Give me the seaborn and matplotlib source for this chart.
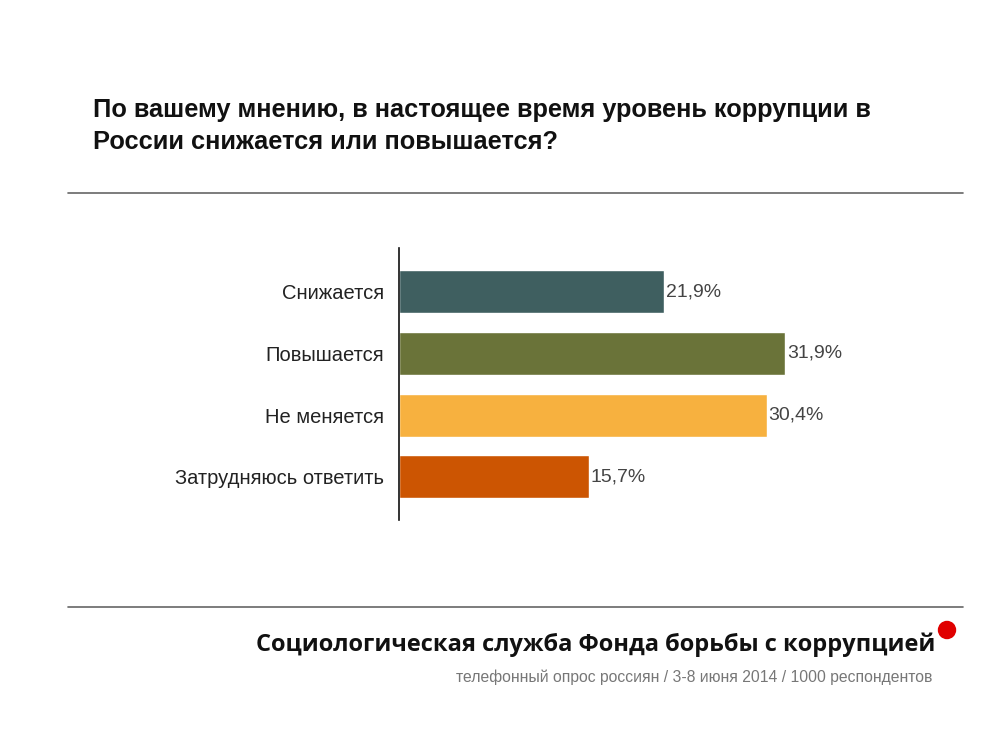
import matplotlib
matplotlib.use("Agg")
import matplotlib.pyplot as plt
import seaborn as sns
import pandas as pd
from matplotlib.patches import Ellipse
from matplotlib.lines import Line2D

categories = ["Снижается", "Повышается", "Не меняется", "Затрудняюсь ответить"]
values = [21.9, 31.9, 30.4, 15.7]
value_labels = ["21,9%", "31,9%", "30,4%", "15,7%"]
colors = ["#3F5F60", "#6A7339", "#F7B13F", "#CC5502"]

title = "По вашему мнению, в настоящее время уровень коррупции в\nРоссии снижается или повышается?"
footer = "Социологическая служба Фонда борьбы с коррупцией"
subfooter = "телефонный опрос россиян / 3-8 июня 2014 / 1000 респондентов"

sns.set_theme(style="white")
plt.rcParams['font.family'] = ['Liberation Sans', 'DejaVu Sans']

df = pd.DataFrame({"cat": categories, "val": values})

fig = plt.figure(figsize=(10, 7.5), dpi=100)
ax = fig.add_axes([0.399, 0.3067, 0.501, 0.3627])
sns.barplot(data=df, x="val", y="cat", hue="cat", palette=colors, legend=False,
            width=0.7, ax=ax, saturation=1)
ax.set_xlim(0, 41.4)
ax.set_ylim(3.70, -0.71)
ax.set_xlabel("")
ax.set_ylabel("")
ax.set_xticks([])
for s in ["top", "right", "bottom"]:
    ax.spines[s].set_visible(False)
ax.spines["left"].set_color("#111111")
ax.spines["left"].set_linewidth(1.2)
ax.tick_params(axis="y", length=0, pad=11, labelsize=14.5, labelcolor="#222222")

for i, (v, lab) in enumerate(zip(values, value_labels)):
    ax.text(v + 0.15, i, lab, va="center", ha="left", fontsize=14, color="#444444")

fig.text(0.093, 1 - 126/750, title, ha="left", va="center", fontsize=18.3, fontweight="bold",
         color="#111111", linespacing=1.42)

fig.add_artist(Line2D([0.068, 0.963], [1 - 193/750, 1 - 193/750], color="#666666", lw=1.2))
fig.add_artist(Line2D([0.068, 0.963], [1 - 607/750, 1 - 607/750], color="#666666", lw=1.2))

fig.text(0.935, 1 - 645/750, footer, ha="right", va="center", fontsize=17.0, fontweight="bold",
         color="#111111", family=['Open Sans', 'DejaVu Sans'])
fig.text(0.932, 1 - 677/750, subfooter, ha="right", va="center", fontsize=11.3,
         color="#777777")
fig.add_artist(Ellipse((0.947, 1 - 630/750), 0.017, 0.0227, color="#E00000",
                       transform=fig.transFigure))

fig.savefig("out.png", dpi=100, facecolor="white")
